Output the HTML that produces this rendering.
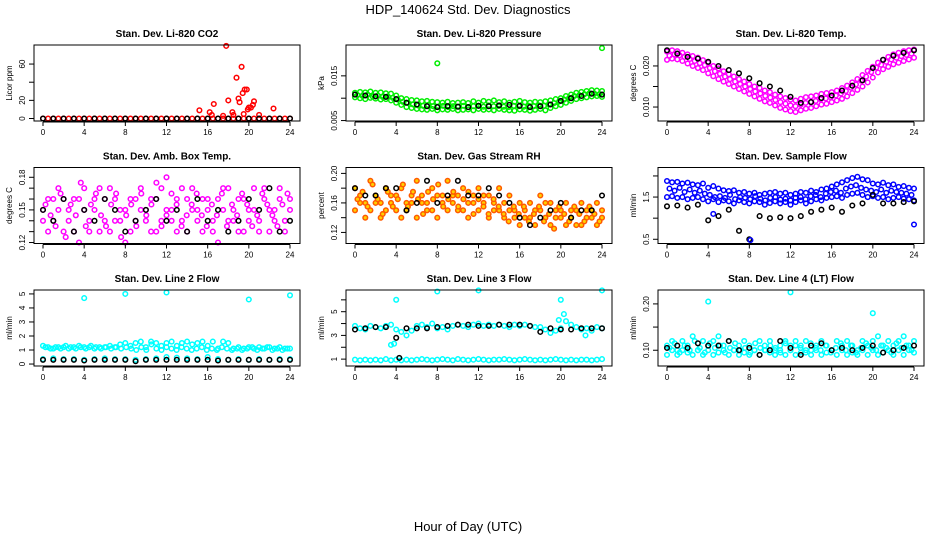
<!DOCTYPE html>
<html><head><meta charset="utf-8"><style>
body{margin:0;background:#fff}
svg{display:block;font-family:"Liberation Sans",sans-serif}
</style></head><body>
<svg id="c" width="936" height="540" viewBox="0 0 936 540" xmlns="http://www.w3.org/2000/svg">
<rect width="936" height="540" fill="#fff"/>
<text x="468" y="14" text-anchor="middle" font-size="13">HDP_140624  Std. Dev. Diagnostics</text>
<text x="468" y="531" text-anchor="middle" font-size="13">Hour of Day (UTC)</text>
</svg>
<script>
const xTicks=[0,4,8,12,16,20,24];
// Panel 1 CO2
const co2Red=[0,0,0,0,0,0,0,0,0,0,0,0,0,0,0,0,0,0,0,0,0,0,0,0,0,0,0,0,0,0,0,0,0,0,0,0,0,0,0,0,0,0,0,0,0,0,0,0,0];
const co2Black=[0,0,0,0,0,0,0,0,0,0,0,0,0,0,0,0,0,0,0,0,0,0,0,0,0];
const co2SpikeHours=[15.2,16.2,16.4,16.6,17.8,18,18.4,18.8,19,19.1,19.3,19.4,19.6,19.8,19.9,20,20.2,20.4,20.5,21,22.4,17.5,18.5,19.5];
const co2SpikeVals=[9,7,4,16,80,20,7,45,22,18,57,28,32,32,10,12,12,15,19,4,11,3,4,5];
// Panel 2 pressure
const presGreenA=[0.0112,0.0114,0.0113,0.0115,0.0112,0.0113,0.0111,0.0110,0.0106,0.0100,0.0098,0.0096,0.0095,0.0093,0.0094,0.0092,0.0091,0.0090,0.0092,0.0089,0.0090,0.0091,0.0089,0.0093,0.0090,0.0094,0.0092,0.0095,0.0091,0.0093,0.0090,0.0092,0.0094,0.0091,0.0090,0.0092,0.0091,0.0093,0.0095,0.0098,0.0100,0.0105,0.0108,0.0112,0.0114,0.0116,0.0118,0.0117,0.0116];
const presGreenB=[0.0102,0.0100,0.0098,0.0101,0.0099,0.0097,0.0098,0.0095,0.0090,0.0085,0.0080,0.0078,0.0076,0.0075,0.0074,0.0076,0.0073,0.0075,0.0074,0.0076,0.0073,0.0074,0.0075,0.0073,0.0076,0.0074,0.0075,0.0073,0.0076,0.0074,0.0073,0.0072,0.0075,0.0074,0.0072,0.0074,0.0076,0.0073,0.0078,0.0082,0.0085,0.0090,0.0094,0.0098,0.0100,0.0102,0.0104,0.0105,0.0103];
const presGreenC=[0.0107,0.0105,0.0108,0.0104,0.0106,0.0103,0.0104,0.0101,0.0097,0.0092,0.0089,0.0086,0.0084,0.0083,0.0085,0.0082,0.0081,0.0083,0.0080,0.0082,0.0081,0.0083,0.0080,0.0082,0.0083,0.0081,0.0084,0.0082,0.0083,0.0081,0.0080,0.0083,0.0082,0.0081,0.0083,0.0082,0.0084,0.0083,0.0086,0.0089,0.0093,0.0097,0.0101,0.0105,0.0107,0.0109,0.0111,0.0110,0.0109];
const presBlack=[0.0108,0.0106,0.0104,0.0103,0.0098,0.0090,0.0086,0.0082,0.0080,0.0082,0.0081,0.0080,0.0083,0.0082,0.0084,0.0085,0.0083,0.0080,0.0082,0.0086,0.0094,0.0100,0.0105,0.0110,0.0108];
const presOutHours=[8,24];
const presOutVals=[0.0178,0.0212];
// Panel 3 temp
const tempMagA=[0.0235,0.0238,0.0236,0.0232,0.0228,0.0224,0.0220,0.0214,0.0208,0.0200,0.0194,0.0187,0.0180,0.0174,0.0168,0.0162,0.0156,0.0150,0.0146,0.0140,0.0136,0.0130,0.0126,0.0122,0.0118,0.0116,0.0120,0.0124,0.0126,0.0128,0.0132,0.0134,0.0136,0.0140,0.0146,0.0152,0.0160,0.0168,0.0178,0.0188,0.0198,0.0208,0.0215,0.0222,0.0228,0.0232,0.0236,0.0238,0.0240];
const tempMagB=[0.0215,0.0218,0.0216,0.0212,0.0206,0.0200,0.0195,0.0190,0.0182,0.0175,0.0168,0.0162,0.0156,0.0150,0.0144,0.0138,0.0132,0.0126,0.0120,0.0114,0.0110,0.0104,0.0098,0.0094,0.0090,0.0088,0.0092,0.0096,0.0098,0.0102,0.0106,0.0108,0.0112,0.0116,0.0120,0.0126,0.0134,0.0142,0.0150,0.0160,0.0172,0.0184,0.0192,0.0198,0.0204,0.0208,0.0212,0.0216,0.0220];
const tempMagC=[0.0225,0.0228,0.0226,0.0222,0.0217,0.0212,0.0207,0.0202,0.0195,0.0187,0.0181,0.0174,0.0168,0.0162,0.0156,0.0150,0.0144,0.0138,0.0133,0.0127,0.0123,0.0117,0.0112,0.0108,0.0104,0.0102,0.0106,0.0110,0.0112,0.0115,0.0119,0.0121,0.0124,0.0128,0.0133,0.0139,0.0147,0.0155,0.0164,0.0174,0.0185,0.0196,0.0203,0.0210,0.0216,0.0220,0.0224,0.0227,0.0230];
const tempBlack=[0.0238,0.0230,0.0222,0.0218,0.0210,0.0200,0.0190,0.0182,0.0170,0.0158,0.0150,0.0140,0.0125,0.0110,0.0112,0.0122,0.0128,0.0140,0.0152,0.0165,0.0195,0.0215,0.0225,0.0232,0.0238];
// Panel 4 amb box temp
const ambMagA=[0.15,0.16,0.14,0.17,0.13,0.15,0.16,0.12,0.17,0.14,0.15,0.13,0.16,0.17,0.14,0.15,0.12,0.16,0.14,0.17,0.15,0.13,0.16,0.14,0.18,0.15,0.13,0.14,0.16,0.17,0.15,0.13,0.16,0.14,0.12,0.15,0.17,0.14,0.16,0.13,0.15,0.17,0.14,0.16,0.13,0.15,0.17,0.14,0.16];
const ambMagB=[0.14,0.13,0.16,0.15,0.16,0.14,0.13,0.16,0.15,0.13,0.16,0.17,0.14,0.13,0.16,0.14,0.15,0.13,0.16,0.15,0.14,0.16,0.13,0.17,0.15,0.14,0.16,0.17,0.13,0.15,0.14,0.16,0.15,0.13,0.16,0.17,0.14,0.15,0.13,0.16,0.14,0.15,0.13,0.17,0.15,0.14,0.16,0.13,0.15];
const ambMagC=[0.155,0.145,0.135,0.165,0.125,0.155,0.145,0.175,0.135,0.155,0.165,0.145,0.135,0.155,0.165,0.125,0.145,0.155,0.135,0.165,0.145,0.155,0.175,0.135,0.145,0.165,0.155,0.135,0.145,0.155,0.165,0.145,0.135,0.155,0.145,0.165,0.135,0.155,0.145,0.165,0.155,0.135,0.145,0.165,0.155,0.145,0.135,0.155,0.165];
const ambBlack=[0.15,0.14,0.16,0.13,0.15,0.14,0.16,0.15,0.13,0.14,0.15,0.16,0.14,0.15,0.13,0.16,0.14,0.15,0.13,0.14,0.16,0.15,0.17,0.13,0.14];
// Panel 5 RH
const rhOrA=[0.18,0.17,0.16,0.19,0.17,0.16,0.18,0.17,0.15,0.18,0.16,0.17,0.19,0.16,0.15,0.18,0.17,0.16,0.19,0.17,0.15,0.18,0.16,0.17,0.18,0.16,0.17,0.15,0.18,0.16,0.17,0.15,0.16,0.14,0.16,0.15,0.17,0.14,0.16,0.15,0.14,0.16,0.15,0.13,0.16,0.14,0.15,0.16,0.14];
const rhOrB=[0.15,0.16,0.14,0.15,0.16,0.14,0.15,0.16,0.17,0.14,0.15,0.16,0.14,0.17,0.16,0.15,0.14,0.17,0.15,0.16,0.17,0.15,0.14,0.16,0.15,0.17,0.14,0.16,0.15,0.14,0.15,0.14,0.13,0.15,0.14,0.13,0.15,0.16,0.13,0.14,0.15,0.13,0.14,0.15,0.13,0.15,0.14,0.13,0.15];
const rhOrC=[0.165,0.175,0.155,0.185,0.165,0.145,0.175,0.155,0.165,0.185,0.155,0.175,0.165,0.145,0.175,0.165,0.185,0.155,0.165,0.175,0.155,0.165,0.175,0.145,0.165,0.155,0.145,0.165,0.155,0.145,0.135,0.155,0.145,0.155,0.135,0.145,0.155,0.135,0.145,0.125,0.155,0.145,0.135,0.155,0.145,0.135,0.155,0.145,0.135];
const rhBlack=[0.18,0.17,0.17,0.18,0.18,0.15,0.16,0.19,0.16,0.17,0.19,0.17,0.17,0.18,0.17,0.16,0.14,0.13,0.14,0.15,0.16,0.14,0.15,0.15,0.17];
// Panel 6 sample flow
const sfBlueA=[1.88,1.85,1.86,1.82,1.84,1.80,1.78,1.82,1.72,1.76,1.70,1.66,1.64,1.66,1.60,1.62,1.58,1.60,1.55,1.58,1.60,1.62,1.58,1.60,1.55,1.58,1.62,1.60,1.65,1.62,1.68,1.70,1.75,1.80,1.85,1.90,1.95,1.98,1.92,1.90,1.82,1.80,1.84,1.78,1.80,1.74,1.76,1.72,1.70];
const sfBlueB=[1.50,1.52,1.48,1.50,1.45,1.48,1.50,1.45,1.40,1.45,1.38,1.42,1.40,1.35,1.42,1.38,1.35,1.40,1.38,1.32,1.36,1.40,1.35,1.38,1.32,1.38,1.42,1.35,1.40,1.45,1.42,1.48,1.50,1.52,1.48,1.55,1.58,1.60,1.55,1.50,1.52,1.48,1.50,1.45,1.48,1.50,1.46,1.45,1.42];
const sfBlueC=[1.70,1.65,1.72,1.62,1.68,1.60,1.65,1.58,1.55,1.50,1.52,1.48,1.55,1.45,1.50,1.48,1.45,1.52,1.46,1.42,1.48,1.50,1.44,1.46,1.42,1.48,1.50,1.45,1.52,1.55,1.50,1.58,1.62,1.65,1.60,1.70,1.75,1.78,1.72,1.68,1.65,1.62,1.68,1.60,1.65,1.62,1.60,1.58,1.55];
const sfBlack=[1.28,1.30,1.25,1.32,0.95,1.05,1.20,0.70,0.50,1.05,1.00,1.02,1.00,1.05,1.15,1.20,1.25,1.15,1.30,1.35,1.55,1.35,1.35,1.38,1.40];
const sfOutHours=[24,4.5,8.1];
const sfOutVals=[0.85,1.1,0.48];
// Panel 7 line 2
const l2CyanA=[1.3,1.2,1.1,1.2,1.2,1.1,1.2,1.3,1.2,1.2,1.1,1.2,1.2,1.3,1.2,1.4,1.5,1.3,1.5,1.6,1.2,1.6,1.5,1.3,1.5,1.6,1.3,1.5,1.6,1.4,1.5,1.6,1.3,1.6,1.1,1.6,1.5,1.1,1.2,1.1,1.2,1.1,1.2,1.1,1.2,1.1,1.2,1.1,1.1];
const l2CyanB=[1.2,1.1,1.2,1.1,1.3,1.2,1.1,1.2,1.1,1.3,1.2,1.1,1.2,1.1,1.2,1.1,1.2,1.1,1.0,1.2,1.0,1.4,1.1,1.0,1.2,1.1,1.0,1.2,1.1,1.0,1.1,1.2,1.0,1.1,1.0,1.2,1.1,1.0,1.1,1.0,1.1,1.2,1.0,1.1,1.2,1.0,1.1,1.0,1.1];
const l2CyanLow=[0.35,0.4,0.35,0.35,0.3,0.35,0.4,0.35,0.35,0.3,0.35,0.4,0.5,0.45,0.4,0.35,0.5,0.35,0.3,0.35,0.3,0.35,0.3,0.35,0.35];
const l2Black=[0.3,0.3,0.3,0.3,0.25,0.3,0.3,0.3,0.3,0.2,0.3,0.3,0.3,0.3,0.3,0.3,0.3,0.25,0.3,0.3,0.3,0.3,0.3,0.3,0.3];
const l2OutHours=[4,8,12,20,24];
const l2OutVals=[4.7,5.0,5.1,4.6,4.9];
// Panel 8 line 3
const l3CyanA=[3.8,3.6,3.5,3.8,3.7,3.6,3.8,3.9,3.5,3.3,3.0,3.4,3.8,3.9,3.7,4.0,3.6,3.7,3.5,3.8,3.9,3.8,3.7,3.9,4.0,3.8,3.9,3.8,3.9,3.8,3.7,3.9,3.8,3.9,3.8,3.7,3.7,3.5,3.2,3.4,3.6,4.2,3.9,3.7,3.5,3.6,3.4,3.7,3.6];
const l3CyanB=[0.95,0.9,0.95,0.9,0.95,0.9,1.0,0.9,0.95,0.9,0.95,0.9,0.95,1.0,0.95,0.9,0.95,1.0,0.95,0.9,1.0,0.95,0.9,0.95,1.0,0.95,0.9,0.95,0.95,1.0,0.95,0.9,0.95,1.0,0.95,0.9,0.95,0.9,0.95,1.0,0.95,0.9,0.95,0.9,0.95,0.95,0.9,0.95,1.0];
const l3Black=[3.5,3.6,3.7,3.7,2.8,3.6,3.6,3.6,3.7,3.8,3.9,3.9,3.8,3.8,3.9,3.9,3.9,3.8,3.3,3.6,3.5,3.5,3.6,3.6,3.6];
const l3OutHours=[4,8,12,20,24,3.5,3.8,20.3,19.8,22.4];
const l3OutVals=[6.0,6.7,6.8,6.0,6.8,2.2,2.3,4.8,4.3,3.0];
const l3BlackOutHours=[4.3];
const l3BlackOutVals=[1.1];
// Panel 9 line 4
const l4CyanA=[0.11,0.12,0.10,0.12,0.11,0.13,0.10,0.12,0.11,0.12,0.13,0.11,0.12,0.10,0.11,0.12,0.11,0.10,0.12,0.11,0.12,0.10,0.11,0.12,0.11,0.12,0.11,0.12,0.10,0.11,0.12,0.11,0.10,0.12,0.11,0.12,0.11,0.10,0.12,0.11,0.12,0.13,0.11,0.12,0.11,0.12,0.13,0.11,0.12];
const l4CyanB=[0.09,0.10,0.09,0.10,0.095,0.09,0.10,0.09,0.10,0.09,0.095,0.10,0.09,0.10,0.09,0.095,0.09,0.10,0.09,0.10,0.095,0.09,0.10,0.09,0.10,0.09,0.095,0.10,0.09,0.10,0.09,0.095,0.10,0.09,0.10,0.09,0.095,0.09,0.10,0.09,0.10,0.09,0.095,0.10,0.09,0.10,0.09,0.10,0.095];
const l4CyanC=[0.105,0.115,0.095,0.110,0.100,0.120,0.105,0.095,0.115,0.105,0.110,0.095,0.105,0.115,0.100,0.105,0.095,0.115,0.105,0.100,0.110,0.105,0.095,0.115,0.100,0.110,0.105,0.095,0.115,0.105,0.100,0.110,0.095,0.105,0.115,0.100,0.110,0.095,0.105,0.115,0.105,0.100,0.110,0.105,0.095,0.115,0.105,0.110,0.100];
const l4Black=[0.105,0.11,0.105,0.115,0.11,0.11,0.12,0.10,0.105,0.09,0.10,0.12,0.105,0.09,0.11,0.115,0.10,0.105,0.10,0.105,0.11,0.095,0.10,0.105,0.11];
const l4OutHours=[4,12,20];
const l4OutVals=[0.205,0.225,0.18];

const NS='http://www.w3.org/2000/svg';
const svg=document.getElementById('c');
function mk(tag,attrs,parent){const e=document.createElementNS(NS,tag);for(const k in attrs)e.setAttribute(k,attrs[k]);(parent||svg).appendChild(e);return e;}

const CYAN='#00ffff',MAG='#ff00ff',GREEN='#00ee00',BLUE='#0000ff',RED='#ff0000';
const panels=[
 {name:'co2',title:'Stan. Dev. Li-820 CO2',ylab:'Licor ppm',ymin:-2.75,ymax:81,ticks:[0,20,40,60],labels:['0','20','','60'],
  series:[{v:co2Red,c:RED},{hx:co2SpikeHours,hv:co2SpikeVals,c:RED},{v:co2Black,c:'#000'}]},
 {name:'pressure',title:'Stan. Dev. Li-820 Pressure',ylab:'kPa',ymin:0.0049,ymax:0.0219,ticks:[0.005,0.010,0.015],labels:['0.005','','0.015'],
  series:[{v:presGreenA,c:GREEN},{v:presGreenB,c:GREEN},{v:presGreenC,c:GREEN,off:1},{hx:presOutHours,hv:presOutVals,c:GREEN},{v:presBlack,c:'#000'}]},
 {name:'temp',title:'Stan. Dev. Li-820 Temp.',ylab:'degrees C',ymin:0.0066,ymax:0.0251,ticks:[0.010,0.015,0.020],labels:['0.010','','0.020'],
  series:[{v:tempMagA,c:MAG},{v:tempMagB,c:MAG},{v:tempMagC,c:MAG,off:1},{v:tempBlack,c:'#000'}]},
 {name:'amb-temp',title:'Stan. Dev. Amb. Box Temp.',ylab:'degrees C',ymin:0.1191,ymax:0.189,ticks:[0.12,0.13,0.14,0.15,0.16,0.17,0.18],labels:['0.12','','','0.15','','','0.18'],
  series:[{v:ambMagA,c:MAG},{v:ambMagB,c:MAG},{v:ambMagC,c:MAG,off:1},{v:ambBlack,c:'#000'}]},
 {name:'rh',title:'Stan. Dev. Gas Stream RH',ylab:'percent',ymin:0.105,ymax:0.208,ticks:[0.12,0.14,0.16,0.18,0.20],labels:['0.12','','0.16','','0.20'],
  series:[{v:rhOrA,c:'#ff5a00',f:'#ffd000'},{v:rhOrB,c:'#ff5a00',f:'#ffd000'},{v:rhOrC,c:'#ff5a00',f:'#ffd000',off:1},{v:rhBlack,c:'#000'}]},
 {name:'sample-flow',title:'Stan. Dev. Sample Flow',ylab:'ml/min',ymin:0.4,ymax:2.2,ticks:[0.5,1.0,1.5,2.0],labels:['0.5','','1.5',''],
  series:[{v:sfBlueA,c:BLUE},{v:sfBlueB,c:BLUE},{v:sfBlueC,c:BLUE,off:1},{hx:sfOutHours.slice(0,2),hv:sfOutVals.slice(0,2),c:BLUE},{v:sfBlack,c:'#000'},{hx:sfOutHours.slice(2),hv:sfOutVals.slice(2),c:BLUE}]},
 {name:'line2-flow',title:'Stan. Dev. Line 2 Flow',ylab:'ml/min',ymin:-0.14,ymax:5.28,ticks:[0,1,2,3,4,5],labels:['0','1','2','3','4','5'],
  series:[{v:l2CyanA,c:CYAN},{v:l2CyanB,c:CYAN,off:1},{v:l2CyanLow,c:CYAN},{hx:l2OutHours,hv:l2OutVals,c:CYAN},{v:l2Black,c:'#000'}]},
 {name:'line3-flow',title:'Stan. Dev. Line 3 Flow',ylab:'ml/min',ymin:0.42,ymax:6.83,ticks:[1,2,3,4,5,6],labels:['1','','3','','5',''],
  series:[{v:l3CyanA,c:CYAN},{v:l3CyanB,c:CYAN},{hx:l3OutHours,hv:l3OutVals,c:CYAN},{v:l3Black,c:'#000'},{hx:l3BlackOutHours,hv:l3BlackOutVals,c:'#000'}]},
 {name:'line4-flow',title:'Stan. Dev. Line 4 (LT) Flow',ylab:'ml/min',ymin:0.066,ymax:0.23,ticks:[0.10,0.15,0.20],labels:['0.10','','0.20'],
  series:[{v:l4CyanA,c:CYAN},{v:l4CyanB,c:CYAN},{v:l4CyanC,c:CYAN,off:1},{hx:l4OutHours,hv:l4OutVals,c:CYAN},{v:l4Black,c:'#000'}]}
];

panels.forEach((p,i)=>{
  const col=i%3,row=Math.floor(i/3);
  const L=34+col*312,T=45+row*122.5,W=266,H=76,B=T+H;
  const xs=h=>L+9+h*(247/24);
  const ys=v=>B-(v-p.ymin)/(p.ymax-p.ymin)*H;
  const g=mk('g',{});
  
  
  const t=mk('text',{x:L+W/2,y:T-8,'text-anchor':'middle','font-size':'10','font-weight':'bold'},g);
  t.textContent=p.title;
  
  
  const pts=mk('g',{},g);
  
  
  p.series.forEach(s=>{
    const n=s.v?s.v.length:0;
    const hrs=s.hx?s.hx:s.v.map((_,k)=>s.off?(k+0.5)*24/n:k*24/(n-1));
    const vals=s.hx?s.hv:s.v;
    vals.forEach((v,k)=>{
      const c=mk('circle',{cx:xs(hrs[k]).toFixed(1),cy:ys(v).toFixed(1),r:2.3,fill:s.f||'none',stroke:s.c,'stroke-width':1.5},pts);
      
      
    });
  });
  const box=mk('rect',{x:L,y:T,width:W,height:H,fill:'none',stroke:'#000','stroke-width':1},g);
  
  
  const xa=mk('g',{},g);
  
  
  mk('line',{x1:xs(0),x2:xs(24),y1:B+1,y2:B+1,stroke:'#000'},xa);
  xTicks.forEach(h=>{
    mk('line',{x1:xs(h),x2:xs(h),y1:B+1,y2:B+5,stroke:'#000'},xa);
    const tx=mk('text',{x:xs(h),y:B+14,'text-anchor':'middle','font-size':'8'},xa);
    tx.textContent=h;
  });
  const ya=mk('g',{},g);
  
  
  mk('line',{x1:L,x2:L,y1:ys(p.ticks[0]),y2:ys(p.ticks[p.ticks.length-1]),stroke:'#000'},ya);
  p.ticks.forEach((v,k)=>{
    const y=ys(v);
    mk('line',{x1:L-5,x2:L,y1:y,y2:y,stroke:'#000'},ya);
    if(p.labels[k]){
      const tx=mk('text',{x:L-9,y:y,'text-anchor':'middle','font-size':'8',transform:`rotate(-90 ${L-9} ${y})`},ya);
      tx.textContent=p.labels[k];
    }
  });
  const yl=mk('text',{x:L-22,y:T+H/2,'text-anchor':'middle','font-size':'8',transform:`rotate(-90 ${L-22} ${T+H/2})`},ya);
  yl.textContent=p.ylab;
  
  
});
</script>
</body></html>
